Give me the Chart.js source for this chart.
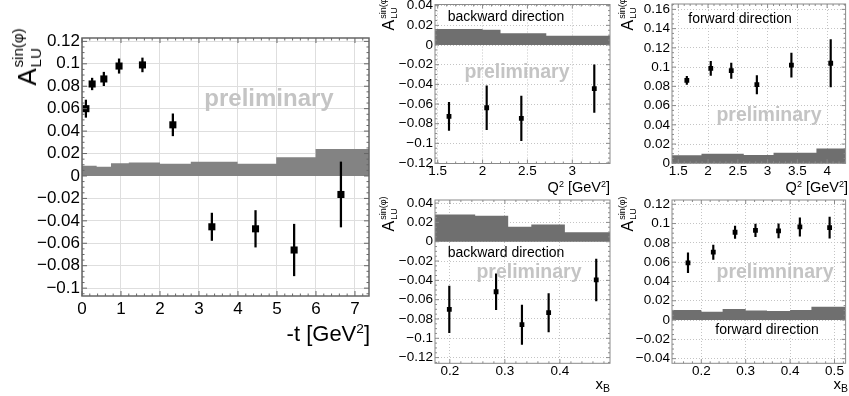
<!DOCTYPE html>
<html>
<head>
<meta charset="utf-8">
<script src="https://cdn.jsdelivr.net/npm/chart.js@4.4.1/dist/chart.umd.min.js"></script>
<style>
  html, body { margin: 0; padding: 0; background: #fff; }
  body { width: 849px; height: 396px; position: relative; overflow: hidden;
         font-family: 'Liberation Sans', Arial, Helvetica, sans-serif; color: #000; }
  canvas { position: absolute; }
  .txt    { position: absolute; white-space: nowrap; line-height: 1; transform: translate(-50%, -50%); }
  .prelim { color: #c4c4c4; font-weight: bold; }
  .ytitle { position: absolute; white-space: nowrap; line-height: 1; transform: translate(-50%, -50%) rotate(-90deg); }
  .ss     { display: inline-flex; flex-direction: column; margin-left: 1px; }
  .xtitle { position: absolute; white-space: nowrap; line-height: 1; }
  .sup    { font-size: 0.62em; vertical-align: 0.55em; }
  .sub    { font-size: 0.7em; vertical-align: -0.3em; }
</style>
</head>
<body>
<canvas id="cMain"></canvas>
<canvas id="cQ2Back"></canvas>
<canvas id="cQ2Fwd"></canvas>
<canvas id="cXbBack"></canvas>
<canvas id="cXbFwd"></canvas>

<!-- axis titles -->
<div class="ytitle" style="left:27px;top:57px;font-size:26px">A<span class="ss" style="font-size:15px;line-height:18px;vertical-align:13px"><span>sin(φ)</span><span>LU</span></span></div>
<div class="xtitle" style="right:479px;top:322px;font-size:22px">-t [GeV<span class="sup">2</span>]</div>

<div class="ytitle" style="left:389px;top:13px;font-size:16px">A<span class="ss" style="font-size:9px;line-height:11px;vertical-align:8px"><span>sin(φ)</span><span>LU</span></span></div>
<div class="xtitle" style="right:239px;top:180px;font-size:14.5px">Q<span class="sup">2</span> [GeV<span class="sup">2</span>]</div>

<div class="ytitle" style="left:628px;top:13px;font-size:16px">A<span class="ss" style="font-size:9px;line-height:11px;vertical-align:8px"><span>sin(φ)</span><span>LU</span></span></div>
<div class="xtitle" style="right:1px;top:180px;font-size:14.5px">Q<span class="sup">2</span> [GeV<span class="sup">2</span>]</div>

<div class="ytitle" style="left:389px;top:214px;font-size:16px">A<span class="ss" style="font-size:9px;line-height:11px;vertical-align:8px"><span>sin(φ)</span><span>LU</span></span></div>
<div class="xtitle" style="right:239px;top:376px;font-size:15px">x<span class="sub">B</span></div>

<div class="ytitle" style="left:628px;top:214px;font-size:16px">A<span class="ss" style="font-size:9px;line-height:11px;vertical-align:8px"><span>sin(φ)</span><span>LU</span></span></div>
<div class="xtitle" style="right:1px;top:376px;font-size:15px">x<span class="sub">B</span></div>

<!-- labels inside the frames -->
<div class="txt prelim" style="left:269px;top:98px;font-size:24px">preliminary</div>
<div class="txt" style="left:506px;top:16px;font-size:14px">backward direction</div>
<div class="txt prelim" style="left:517px;top:72px;font-size:19.5px">preliminary</div>
<div class="txt" style="left:740px;top:18px;font-size:14px">forward direction</div>
<div class="txt prelim" style="left:769px;top:115px;font-size:19.5px">preliminary</div>
<div class="txt" style="left:506px;top:252px;font-size:14px">backward direction</div>
<div class="txt prelim" style="left:529px;top:272px;font-size:19.5px">preliminary</div>
<div class="txt prelim" style="left:775px;top:272px;font-size:19.5px">prelimninary</div>
<div class="txt" style="left:767px;top:329px;font-size:14px">forward direction</div>

<script>
/* ═══════════════════════════════════════════════════════════
   DATA
════════════════════════════════════════════════════════════ */
// A_LU vs -t (big panel)
const tX      = [0.10, 0.26, 0.56, 0.95, 1.55, 2.33, 3.33, 4.45, 5.44, 6.64];
const tA      = [0.060, 0.082, 0.0865, 0.098, 0.099, 0.0456, -0.0453, -0.0471, -0.066, -0.0165];
const tErr    = [0.0077, 0.0052, 0.006, 0.0064, 0.0062, 0.0098, 0.0122, 0.0163, 0.023, 0.029];
const tEdges  = [0, 0.376, 0.743, 1.2, 2.0, 2.79, 3.99, 4.98, 5.99, 7.36];
const tSys    = [0.0092, 0.0083, 0.0113, 0.0121, 0.011, 0.0127, 0.011, 0.0166, 0.024];
const tXTicks = [0, 1, 2, 3, 4, 5, 6, 7];
const tYTicks = [-0.1, -0.08, -0.06, -0.04, -0.02, 0, 0.02, 0.04, 0.06, 0.08, 0.1, 0.12];

// A_LU vs Q2, backward
const qbX     = [1.626, 2.046, 2.432, 3.245];
const qbA     = [-0.0726, -0.0638, -0.0746, -0.0444];
const qbErr   = [0.0142, 0.0224, 0.0226, 0.0242];
const qbEdges = [1.47, 2.0, 2.2, 2.71, 3.42];
const qbSys   = [0.0162, 0.0155, 0.0119, 0.0095];
const qbXTicks = [1.5, 2, 2.5, 3];
const qbYTicks = [-0.12, -0.1, -0.08, -0.06, -0.04, -0.02, 0, 0.02, 0.04];

// A_LU vs Q2, forward
const qfX     = [1.644, 2.046, 2.39, 2.82, 3.40, 4.06];
const qfA     = [0.0863, 0.0987, 0.0963, 0.0817, 0.102, 0.104];
const qfErr   = [0.0042, 0.0073, 0.008, 0.0095, 0.0125, 0.0246];
const qfEdges = [1.395, 1.89, 2.6, 3.1, 3.82, 4.31];
const qfSys   = [0.0083, 0.0098, 0.0087, 0.011, 0.0155];
const qfXTicks = [1.5, 2, 2.5, 3, 3.5, 4];
const qfYTicks = [0, 0.02, 0.04, 0.06, 0.08, 0.1, 0.12, 0.14, 0.16];

// A_LU vs xB, backward
const xbX     = [0.199, 0.284, 0.331, 0.3795, 0.466];
const xbA     = [-0.070, -0.0518, -0.0859, -0.0735, -0.0396];
const xbErr   = [0.0241, 0.0186, 0.0204, 0.0198, 0.0216];
const xbEdges = [0.173, 0.246, 0.306, 0.348, 0.409, 0.491];
const xbSys   = [0.0283, 0.0269, 0.0155, 0.0179, 0.0097];
const xbXTicks = [0.2, 0.3, 0.4];
const xbYTicks = [-0.12, -0.1, -0.08, -0.06, -0.04, -0.02, 0, 0.02, 0.04];

// A_LU vs xB, forward
const xfX     = [0.170, 0.227, 0.276, 0.322, 0.374, 0.422, 0.489];
const xfA     = [0.0593, 0.0703, 0.091, 0.093, 0.0924, 0.0965, 0.0958];
const xfErr   = [0.0103, 0.0074, 0.0064, 0.0065, 0.0074, 0.0095, 0.0109];
const xfEdges = [0.134, 0.2, 0.248, 0.3, 0.348, 0.4, 0.448, 0.525];
const xfSys   = [0.0103, 0.0086, 0.0114, 0.010, 0.0093, 0.0103, 0.0138];
const xfXTicks = [0.2, 0.3, 0.4, 0.5];
const xfYTicks = [-0.04, -0.02, 0, 0.02, 0.04, 0.06, 0.08, 0.1, 0.12];

/* ═══════════════════════════════════════════════════════════
   ROOT-like frame: box + inward major/minor ticks
════════════════════════════════════════════════════════════ */
const rootFrame = {
  id: 'rootFrame',
  defaults: { color: '#777', width: 1, major: 5, minor: 2.5, subX: 5, subY: 4 },
  afterDatasetsDraw(chart, args, o) {
    const { ctx, chartArea: a, scales } = chart;
    ctx.save();
    ctx.strokeStyle = o.color;
    ctx.lineWidth = 1;
    ctx.beginPath();
    ['x', 'y'].forEach(id => {
      const s = scales[id];
      const vals = s.ticks.map(t => t.value);
      const sub = id === 'x' ? o.subX : o.subY;
      const step = (vals[1] - vals[0]) / sub;
      const k0 = Math.ceil((s.min - vals[0]) / step - 1e-6);
      for (let k = k0; vals[0] + k * step <= s.max + 1e-9; k++) {
        const p = s.getPixelForValue(vals[0] + k * step);
        const len = (((k % sub) + sub) % sub === 0) ? o.major : o.minor;
        if (id === 'x') {
          ctx.moveTo(p, a.bottom); ctx.lineTo(p, a.bottom - len);
          ctx.moveTo(p, a.top);    ctx.lineTo(p, a.top + len);
        } else {
          ctx.moveTo(a.left, p);  ctx.lineTo(a.left + len, p);
          ctx.moveTo(a.right, p); ctx.lineTo(a.right - len, p);
        }
      }
    });
    ctx.stroke();
    ctx.lineWidth = o.width;
    ctx.strokeRect(a.left, a.top, a.right - a.left, a.bottom - a.top);
    ctx.restore();
  }
};
Chart.register(rootFrame);

Chart.defaults.font.family = "'Liberation Sans', Arial, Helvetica, sans-serif";
Chart.defaults.color = '#000';

function fmt(v) { return String(+(+v).toFixed(3)).replace('-', '\u2212'); }

/* ── one panel ───────────────────────────────────────── */
function panel(id, p) {
  const cv = document.getElementById(id);
  cv.width = p.box.w; cv.height = p.box.h;
  cv.style.left = p.box.x + 'px'; cv.style.top = p.box.y + 'px';

  const yW   = p.frame.l - p.box.x;
  const xH   = p.box.y + p.box.h - p.frame.b;
  const padT = p.frame.t - p.box.y;
  const padR = p.box.x + p.box.w - p.frame.r;

  const pts  = p.xs.map((x, i) => ({ x, y: p.ys[i] }));
  const errs = p.xs.map((x, i) => ({ x, y: [p.ys[i] - p.es[i], p.ys[i] + p.es[i]] }));
  const sys  = p.edges.map((x, i) => ({ x, y: p.sys[Math.min(i, p.sys.length - 1)] }));

  const grid = { color: p.gridColor, lineWidth: 1, drawTicks: false, offset: false };
  const border = { display: false, dash: p.gridDash };

  new Chart(cv, {
    type: 'scatter',
    data: {
      datasets: [
        { type: 'scatter', data: pts, pointStyle: 'rect', pointRadius: p.pr, pointHoverRadius: p.pr,
          backgroundColor: '#000', borderWidth: 0, order: 0 },
        { type: 'bar', data: errs, backgroundColor: '#000', barThickness: p.bw, order: 1 },
        { type: 'line', data: sys, stepped: 'before', fill: 'origin', backgroundColor: p.bandColor,
          borderWidth: 0, pointRadius: 0, order: 2 }
      ]
    },
    options: {
      responsive: false,
      animation: false,
      events: [],
      layout: { padding: { top: padT, right: padR, bottom: 0, left: 0 } },
      plugins: {
        legend: { display: false },
        tooltip: { enabled: false },
        rootFrame: { color: p.frameColor, width: p.frameWidth, major: p.major, minor: p.minor,
                     subX: p.subX, subY: p.subY }
      },
      scales: {
        x: {
          type: 'linear', min: p.xMin, max: p.xMax, offset: false, grid, border,
          ticks: { font: { size: p.font }, padding: p.xPad, autoSkip: false, maxRotation: 0, callback: fmt },
          afterBuildTicks: s => { s.ticks = p.xTicks.map(value => ({ value })); },
          afterFit: s => { s.height = xH; s.paddingLeft = 0; s.paddingRight = 0; }
        },
        y: {
          type: 'linear', min: p.yMin, max: p.yMax, grid, border,
          ticks: { font: { size: p.font }, padding: 2, autoSkip: false, callback: fmt },
          afterBuildTicks: s => { s.ticks = p.yTicks.map(value => ({ value })); },
          afterFit: s => { s.width = yW; s.paddingTop = 0; s.paddingBottom = 0; }
        }
      }
    }
  });
}

const small = {
  font: 13.5, xPad: 0, pr: 3.4, bw: 1.5, bandColor: '#6f6f6f',
  gridColor: '#c4c4c4', gridDash: [1, 2], frameColor: '#8a8a8a', frameWidth: 1,
  major: 4, minor: 2, subY: 4
};

panel('cMain', {
  box: { x: 0, y: 0, w: 380, h: 396 }, frame: { l: 82, t: 38, r: 369, b: 296 },
  xMin: 0, xMax: 7.36, yMin: -0.107, yMax: 0.123,
  xs: tX, ys: tA, es: tErr, edges: tEdges, sys: tSys, xTicks: tXTicks, yTicks: tYTicks,
  font: 17, xPad: 3, pr: 5, bw: 1.6, bandColor: '#838383',
  gridColor: '#dedede', gridDash: [], frameColor: '#666', frameWidth: 1.5,
  major: 5, minor: 2.5, subX: 5, subY: 4
});

panel('cQ2Back', Object.assign({}, small, {
  box: { x: 380, y: 0, w: 240, h: 196 }, frame: { l: 435, t: 4.5, r: 610, b: 163.5 },
  xMin: 1.47, xMax: 3.42, yMin: -0.1205, yMax: 0.0412,
  xs: qbX, ys: qbA, es: qbErr, edges: qbEdges, sys: qbSys, xTicks: qbXTicks, yTicks: qbYTicks,
  subX: 5
}));

panel('cQ2Fwd', Object.assign({}, small, {
  box: { x: 620, y: 0, w: 229, h: 196 }, frame: { l: 672, t: 4, r: 848, b: 163.3 },
  xMin: 1.395, xMax: 4.31, yMin: 0, yMax: 0.1656,
  xs: qfX, ys: qfA, es: qfErr, edges: qfEdges, sys: qfSys, xTicks: qfXTicks, yTicks: qfYTicks,
  subX: 5
}));

panel('cXbBack', Object.assign({}, small, {
  box: { x: 380, y: 196, w: 240, h: 200 }, frame: { l: 435, t: 200, r: 610, b: 363.3 },
  xMin: 0.173, xMax: 0.491, yMin: -0.1259, yMax: 0.0432,
  xs: xbX, ys: xbA, es: xbErr, edges: xbEdges, sys: xbSys, xTicks: xbXTicks, yTicks: xbYTicks,
  subX: 5
}));

panel('cXbFwd', Object.assign({}, small, {
  box: { x: 620, y: 196, w: 229, h: 200 }, frame: { l: 672, t: 200, r: 848, b: 363.3 },
  xMin: 0.134, xMax: 0.525, yMin: -0.0448, yMax: 0.1244,
  xs: xfX, ys: xfA, es: xfErr, edges: xfEdges, sys: xfSys, xTicks: xfXTicks, yTicks: xfYTicks,
  subX: 5
}));
</script>
</body>
</html>
